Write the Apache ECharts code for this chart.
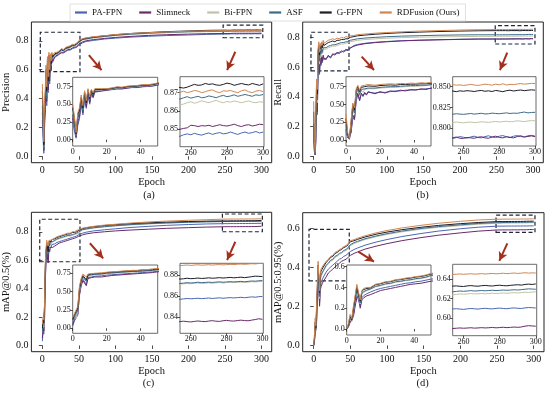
<!DOCTYPE html>
<html><head><meta charset="utf-8">
<script src="https://cdn.jsdelivr.net/npm/echarts@6/dist/echarts.min.js"></script>
<style>html,body{margin:0;padding:0;background:#fff}#c{width:550px;height:395px}</style>
</head><body><div id="c"></div>
<script>
const models = ['PA-FPN','Slimneck','Bi-FPN','ASF','G-FPN','RDFusion (Ours)'];
const colors = ['#4a67b1','#6a2a6c','#bfc4a6','#3e6b88','#1c1c2a','#cf8752'];

const epochsEarly = [0,1,2,3,4,5,6,7,8,9,10,11,12,13,14,17,20,23,26,29,32,35,38,41,44,47,50];
const epochsMid = [55,60,70,85,100,120,145,170,200,225];
const epochsLate = [250,252,254,256,258,260,262,264,266,268,270,272,274,276,278,280,282,284,286,288,290,292,294,296,298,300];

// ---------- Precision ----------
const prec_PA = [0.25,0.12,0.02,0.20,0.30,0.50,0.35,0.58,0.44,0.64,0.50,0.65,0.59,0.67,0.65,
 0.685,0.695,0.705,0.715,0.715,0.725,0.735,0.735,0.745,0.75,0.755,0.77,
 0.785,0.795,0.802,0.812,0.818,0.825,0.831,0.836,0.840,0.844,
 0.8465,0.8460,0.8462,0.8470,0.8475,0.8470,0.8478,0.8472,0.8468,0.8475,0.8480,0.8472,0.8478,0.8482,0.8475,0.8478,0.8485,0.8478,0.8472,0.8480,0.8485,0.8478,0.8482,0.8488,0.8480,0.8485];
const prec_Slim = [0.30,0.20,0.04,0.25,0.33,0.52,0.38,0.60,0.46,0.65,0.52,0.66,0.60,0.68,0.66,
 0.69,0.70,0.71,0.72,0.72,0.73,0.74,0.74,0.75,0.755,0.76,0.775,
 0.792,0.800,0.808,0.816,0.823,0.830,0.837,0.842,0.846,0.849,
 0.8505,0.8502,0.8500,0.8505,0.8508,0.8522,0.8520,0.8515,0.8520,0.8518,0.8522,0.8515,0.8520,0.8525,0.8520,0.8518,0.8522,0.8528,0.8520,0.8515,0.8522,0.8525,0.8518,0.8522,0.8528,0.8525];
const prec_Bi = [0.40,0.25,0.06,0.32,0.40,0.58,0.42,0.65,0.51,0.69,0.57,0.69,0.63,0.70,0.68,
 0.70,0.71,0.715,0.73,0.73,0.74,0.745,0.75,0.76,0.76,0.77,0.785,
 0.805,0.810,0.819,0.828,0.836,0.843,0.850,0.855,0.860,0.863,
 0.8650,0.8640,0.8632,0.8638,0.8645,0.8650,0.8642,0.8648,0.8655,0.8650,0.8645,0.8652,0.8658,0.8650,0.8645,0.8652,0.8648,0.8655,0.8650,0.8645,0.8650,0.8655,0.8648,0.8645,0.8650,0.8648];
const prec_ASF = [0.35,0.22,0.05,0.30,0.38,0.57,0.40,0.64,0.50,0.68,0.56,0.69,0.63,0.70,0.68,
 0.705,0.71,0.72,0.735,0.73,0.745,0.75,0.755,0.765,0.765,0.775,0.79,
 0.808,0.813,0.822,0.830,0.838,0.846,0.853,0.858,0.863,0.866,
 0.8670,0.8668,0.8665,0.8672,0.8678,0.8670,0.8675,0.8680,0.8672,0.8675,0.8682,0.8678,0.8672,0.8680,0.8685,0.8678,0.8682,0.8688,0.8680,0.8685,0.8690,0.8685,0.8680,0.8688,0.8685,0.8690];
const prec_G = [0.45,0.30,0.08,0.35,0.42,0.60,0.45,0.67,0.52,0.70,0.58,0.70,0.64,0.71,0.69,
 0.71,0.715,0.725,0.74,0.735,0.75,0.755,0.76,0.77,0.77,0.78,0.795,
 0.812,0.818,0.826,0.834,0.842,0.850,0.857,0.863,0.868,0.872,
 0.8735,0.8730,0.8728,0.8725,0.8730,0.8738,0.8745,0.8740,0.8742,0.8750,0.8745,0.8748,0.8742,0.8740,0.8745,0.8752,0.8748,0.8740,0.8745,0.8750,0.8745,0.8742,0.8750,0.8745,0.8740,0.8748];
const prec_RDF = [0.50,0.32,0.10,0.38,0.45,0.63,0.48,0.69,0.55,0.72,0.60,0.71,0.66,0.72,0.70,
 0.72,0.72,0.73,0.745,0.74,0.755,0.76,0.765,0.775,0.775,0.785,0.80,
 0.815,0.820,0.828,0.835,0.843,0.850,0.856,0.861,0.866,0.869,
 0.8705,0.8700,0.8702,0.8708,0.8700,0.8705,0.8712,0.8708,0.8700,0.8705,0.8712,0.8715,0.8705,0.8700,0.8710,0.8708,0.8712,0.8705,0.8700,0.8710,0.8715,0.8705,0.8700,0.8708,0.8712,0.8705];

// ---------- Recall ----------
const rec_PA = [0.12,0.03,0.01,0.10,0.32,0.28,0.55,0.64,0.55,0.65,0.61,0.66,0.63,0.67,0.65,
 0.66,0.67,0.67,0.68,0.69,0.69,0.70,0.70,0.71,0.71,0.72,0.725,
 0.745,0.752,0.760,0.767,0.772,0.777,0.781,0.784,0.787,0.789,
 0.7895,0.7885,0.7878,0.7888,0.7900,0.7892,0.7882,0.7895,0.7905,0.7890,0.7885,0.7900,0.7910,0.7895,0.7888,0.7905,0.7912,0.7898,0.7890,0.7905,0.7912,0.7900,0.7895,0.7910,0.7915,0.7905];
const rec_Slim = [0.15,0.04,0.01,0.12,0.35,0.30,0.58,0.66,0.56,0.66,0.62,0.67,0.64,0.68,0.66,
 0.65,0.68,0.66,0.69,0.68,0.70,0.69,0.71,0.70,0.72,0.71,0.73,
 0.740,0.748,0.757,0.765,0.770,0.776,0.780,0.783,0.786,0.788,
 0.7880,0.7875,0.7885,0.7895,0.7880,0.7878,0.7890,0.7885,0.7880,0.7892,0.7898,0.7885,0.7880,0.7895,0.7905,0.7890,0.7885,0.7898,0.7890,0.7885,0.7900,0.7910,0.7895,0.7902,0.7908,0.7900];
const rec_Bi = [0.20,0.05,0.02,0.18,0.42,0.36,0.64,0.70,0.62,0.70,0.67,0.71,0.69,0.72,0.71,
 0.72,0.73,0.735,0.74,0.74,0.745,0.75,0.755,0.755,0.76,0.765,0.77,
 0.775,0.780,0.785,0.790,0.794,0.798,0.801,0.803,0.805,0.806,
 0.8065,0.8060,0.8068,0.8075,0.8070,0.8065,0.8072,0.8075,0.8068,0.8072,0.8078,0.8075,0.8070,0.8078,0.8082,0.8075,0.8080,0.8085,0.8078,0.8082,0.8090,0.8085,0.8080,0.8088,0.8092,0.8090];
const rec_ASF = [0.22,0.06,0.02,0.20,0.45,0.38,0.66,0.72,0.64,0.71,0.69,0.72,0.70,0.73,0.72,
 0.73,0.74,0.745,0.75,0.75,0.755,0.76,0.765,0.765,0.77,0.77,0.78,
 0.785,0.790,0.795,0.800,0.804,0.808,0.811,0.814,0.816,0.817,
 0.8170,0.8165,0.8168,0.8175,0.8170,0.8168,0.8172,0.8178,0.8170,0.8175,0.8180,0.8172,0.8175,0.8182,0.8178,0.8175,0.8180,0.8185,0.8178,0.8182,0.8180,0.8188,0.8195,0.8185,0.8190,0.8192];
const rec_G = [0.30,0.08,0.03,0.25,0.50,0.42,0.70,0.75,0.68,0.74,0.72,0.75,0.73,0.76,0.745,
 0.755,0.765,0.77,0.775,0.77,0.78,0.78,0.785,0.785,0.79,0.79,0.80,
 0.805,0.810,0.815,0.821,0.826,0.831,0.835,0.839,0.842,0.844,
 0.8450,0.8445,0.8448,0.8440,0.8450,0.8445,0.8452,0.8448,0.8442,0.8450,0.8455,0.8445,0.8450,0.8442,0.8455,0.8448,0.8440,0.8452,0.8458,0.8448,0.8455,0.8460,0.8452,0.8458,0.8462,0.8458];
const rec_RDF = [0.37,0.10,0.03,0.28,0.52,0.45,0.72,0.77,0.70,0.76,0.74,0.77,0.75,0.78,0.76,
 0.77,0.78,0.785,0.79,0.785,0.795,0.79,0.80,0.795,0.805,0.80,0.81,
 0.812,0.818,0.822,0.828,0.832,0.837,0.842,0.845,0.849,0.851,
 0.8520,0.8515,0.8525,0.8518,0.8522,0.8515,0.8520,0.8528,0.8520,0.8515,0.8522,0.8530,0.8525,0.8518,0.8530,0.8522,0.8535,0.8520,0.8528,0.8525,0.8532,0.8538,0.8530,0.8535,0.8540,0.8538];

// ---------- mAP@0.5 ----------
const map50_PA = [0.03,0.10,0.08,0.18,0.48,0.60,0.67,0.67,0.60,0.69,0.68,0.70,0.69,0.71,0.70,
 0.715,0.725,0.73,0.735,0.74,0.745,0.75,0.755,0.76,0.765,0.77,0.78,
 0.790,0.797,0.806,0.814,0.821,0.830,0.838,0.845,0.851,0.855,
 0.8572,0.8575,0.8570,0.8574,0.8578,0.8575,0.8577,0.8580,0.8576,0.8579,0.8582,0.8578,0.8581,0.8584,0.8580,0.8583,0.8586,0.8583,0.8586,0.8589,0.8585,0.8589,0.8593,0.8590,0.8595,0.8597];
const map50_Slim = [0.05,0.12,0.10,0.20,0.45,0.58,0.65,0.66,0.58,0.68,0.66,0.69,0.68,0.70,0.69,
 0.70,0.71,0.72,0.725,0.73,0.735,0.74,0.745,0.75,0.755,0.76,0.77,
 0.778,0.785,0.793,0.800,0.806,0.812,0.818,0.824,0.829,0.833,
 0.8355,0.8352,0.8358,0.8362,0.8358,0.8355,0.8360,0.8364,0.8360,0.8358,0.8363,0.8367,0.8362,0.8360,0.8366,0.8370,0.8365,0.8363,0.8368,0.8372,0.8368,0.8366,0.8372,0.8378,0.8385,0.8380];
const map50_Bi = [0.10,0.16,0.13,0.24,0.50,0.63,0.70,0.69,0.65,0.71,0.70,0.72,0.71,0.73,0.725,
 0.735,0.745,0.75,0.755,0.76,0.765,0.77,0.77,0.775,0.78,0.785,0.79,
 0.812,0.818,0.826,0.834,0.841,0.848,0.855,0.861,0.866,0.870,
 0.8715,0.8718,0.8714,0.8717,0.8720,0.8718,0.8721,0.8725,0.8720,0.8723,0.8726,0.8722,0.8726,0.8729,0.8725,0.8728,0.8731,0.8728,0.8731,0.8733,0.8730,0.8733,0.8737,0.8735,0.8738,0.8740];
const map50_ASF = [0.10,0.15,0.14,0.25,0.52,0.64,0.70,0.70,0.64,0.72,0.70,0.73,0.72,0.735,0.73,
 0.74,0.75,0.755,0.76,0.765,0.77,0.775,0.775,0.78,0.785,0.79,0.80,
 0.815,0.820,0.828,0.836,0.843,0.850,0.857,0.862,0.867,0.870,
 0.8722,0.8725,0.8720,0.8724,0.8728,0.8725,0.8728,0.8732,0.8728,0.8730,0.8733,0.8730,0.8733,0.8736,0.8732,0.8735,0.8738,0.8735,0.8738,0.8740,0.8737,0.8740,0.8744,0.8742,0.8746,0.8748];
const map50_G = [0.12,0.18,0.16,0.28,0.55,0.66,0.72,0.72,0.66,0.73,0.72,0.74,0.73,0.745,0.74,
 0.75,0.76,0.765,0.77,0.775,0.78,0.785,0.785,0.795,0.795,0.80,0.81,
 0.822,0.828,0.836,0.844,0.850,0.857,0.863,0.868,0.872,0.875,
 0.8765,0.8768,0.8762,0.8765,0.8770,0.8766,0.8768,0.8772,0.8768,0.8770,0.8774,0.8770,0.8772,0.8776,0.8772,0.8775,0.8778,0.8774,0.8777,0.8780,0.8776,0.8780,0.8785,0.8790,0.8788,0.8786];
const map50_RDF = [0.15,0.20,0.18,0.30,0.58,0.68,0.74,0.73,0.70,0.74,0.73,0.745,0.74,0.75,0.745,
 0.755,0.765,0.77,0.775,0.78,0.785,0.79,0.79,0.80,0.80,0.81,0.815,
 0.825,0.830,0.838,0.847,0.853,0.861,0.869,0.875,0.881,0.885,
 0.8892,0.8894,0.8890,0.8893,0.8896,0.8892,0.8895,0.8898,0.8894,0.8896,0.8899,0.8895,0.8898,0.8900,0.8897,0.8899,0.8902,0.8900,0.8903,0.8905,0.8902,0.8905,0.8908,0.8906,0.8910,0.8912];

// ---------- mAP@0.5:0.95 ----------
const map95_PA = [0.00,0.02,0.07,0.06,0.14,0.24,0.33,0.34,0.22,0.30,0.32,0.33,0.34,0.35,0.355,
 0.375,0.39,0.40,0.41,0.42,0.43,0.44,0.445,0.455,0.46,0.47,0.48,
 0.490,0.498,0.512,0.528,0.541,0.556,0.571,0.584,0.596,0.604,
 0.6092,0.6088,0.6095,0.6098,0.6094,0.6091,0.6096,0.6100,0.6097,0.6094,0.6099,0.6102,0.6098,0.6096,0.6101,0.6104,0.6100,0.6098,0.6103,0.6106,0.6102,0.6100,0.6106,0.6110,0.6108,0.6105];
const map95_Slim = [0.00,0.02,0.06,0.05,0.12,0.22,0.30,0.32,0.20,0.28,0.30,0.31,0.32,0.33,0.33,
 0.35,0.37,0.38,0.39,0.40,0.41,0.42,0.43,0.435,0.44,0.45,0.46,
 0.470,0.478,0.492,0.507,0.520,0.535,0.550,0.563,0.575,0.584,
 0.5898,0.5900,0.5896,0.5899,0.5902,0.5899,0.5901,0.5904,0.5900,0.5902,0.5905,0.5902,0.5904,0.5907,0.5903,0.5906,0.5909,0.5905,0.5908,0.5911,0.5908,0.5912,0.5920,0.5925,0.5922,0.5920];
const map95_Bi = [0.00,0.03,0.09,0.07,0.17,0.27,0.37,0.37,0.24,0.33,0.35,0.35,0.37,0.38,0.38,
 0.405,0.415,0.43,0.435,0.45,0.455,0.465,0.47,0.48,0.485,0.495,0.51,
 0.520,0.528,0.541,0.555,0.567,0.580,0.593,0.603,0.612,0.619,
 0.6242,0.6245,0.6240,0.6244,0.6248,0.6245,0.6248,0.6252,0.6248,0.6250,0.6253,0.6250,0.6253,0.6256,0.6252,0.6255,0.6258,0.6255,0.6258,0.6261,0.6258,0.6262,0.6266,0.6263,0.6268,0.6270];
const map95_ASF = [0.00,0.03,0.10,0.08,0.18,0.28,0.38,0.38,0.25,0.34,0.36,0.36,0.375,0.385,0.385,
 0.41,0.42,0.435,0.44,0.455,0.46,0.47,0.475,0.485,0.49,0.50,0.515,
 0.525,0.532,0.545,0.559,0.571,0.584,0.597,0.607,0.616,0.623,
 0.6272,0.6275,0.6270,0.6274,0.6278,0.6275,0.6278,0.6282,0.6278,0.6280,0.6283,0.6280,0.6283,0.6286,0.6282,0.6285,0.6288,0.6285,0.6288,0.6291,0.6288,0.6292,0.6296,0.6300,0.6298,0.6296];
const map95_G = [0.00,0.04,0.12,0.09,0.20,0.30,0.41,0.40,0.27,0.36,0.38,0.37,0.39,0.40,0.395,
 0.425,0.435,0.45,0.455,0.47,0.475,0.485,0.49,0.50,0.505,0.515,0.53,
 0.535,0.542,0.554,0.568,0.579,0.591,0.603,0.613,0.622,0.628,
 0.6325,0.6322,0.6328,0.6330,0.6326,0.6324,0.6330,0.6333,0.6329,0.6327,0.6332,0.6335,0.6331,0.6329,0.6334,0.6337,0.6333,0.6331,0.6336,0.6339,0.6342,0.6338,0.6345,0.6348,0.6345,0.6350];
const map95_RDF = [0.00,0.05,0.14,0.10,0.22,0.32,0.43,0.42,0.28,0.37,0.39,0.38,0.40,0.41,0.40,
 0.43,0.44,0.455,0.46,0.475,0.48,0.49,0.495,0.505,0.51,0.52,0.535,
 0.540,0.548,0.560,0.575,0.587,0.600,0.613,0.624,0.634,0.641,
 0.6448,0.6450,0.6446,0.6449,0.6452,0.6448,0.6451,0.6454,0.6450,0.6452,0.6455,0.6451,0.6454,0.6457,0.6453,0.6456,0.6459,0.6455,0.6458,0.6461,0.6457,0.6460,0.6464,0.6460,0.6463,0.6461];

const mainXTicks = [0,50,100,150,200,250,300];
const leftXTicks = [0,20,40];
const rightXTicks = [260,280,300];

const FONT = '"Liberation Serif","DejaVu Serif",serif';
const epochs = epochsEarly.concat(epochsMid, epochsLate);

const panels = [
 { yName:'Precision', tag:'(a)', tagPos:[149,195.5],
   data:[prec_PA,prec_Slim,prec_Bi,prec_ASF,prec_G,prec_RDF],
   main:{left:29.3,top:22,width:242.4,height:140.7,ymin:-0.045,ymax:0.93,yticks:[0,0.2,0.4,0.6,0.8],dec:1},
   inL:{left:72.7,top:77.3,width:85,height:68.7,ymin:-0.09,ymax:0.88,yticks:[0,0.25,0.5,0.75],dec:2},
   inR:{left:180,top:76.7,width:84,height:70,ymin:0.8405,ymax:0.8787,yticks:[0.85,0.86,0.87],dec:2},
   rectL:[[-2.8,0.586],[51.5,0.859]], rectR:[[247.5,0.821],[301.8,0.909]],
   arrowL:[[63.7,0.701],[81.0,0.597]], arrowR:[[264.2,0.724],[252.9,0.597]] },
 { yName:'Recall', tag:'(b)', tagPos:[422.5,195.5],
   data:[rec_PA,rec_Slim,rec_Bi,rec_ASF,rec_G,rec_RDF],
   main:{left:302.7,top:22,width:240.6,height:140.7,ymin:-0.043,ymax:0.903,yticks:[0,0.2,0.4,0.6,0.8],dec:1},
   inL:{left:346,top:76.7,width:85,height:69.3,ymin:-0.084,ymax:0.89,yticks:[0,0.25,0.5,0.75],dec:2},
   inR:{left:452.7,top:76.7,width:83.3,height:69.3,ymin:0.7787,ymax:0.862,yticks:[0.8,0.825,0.85],dec:3},
   rectL:[[-3.7,0.574],[48.3,0.834]], rectR:[[248.3,0.755],[302.6,0.878]],
   arrowL:[[65.6,0.670],[82.5,0.580]], arrowR:[[264.7,0.697],[254.7,0.580]] },
 { yName:'mAP@0.5(%)', tag:'(c)', tagPos:[148.5,383],
   data:[map50_PA,map50_Slim,map50_Bi,map50_ASF,map50_G,map50_RDF],
   main:{left:29.3,top:212.3,width:242.4,height:139.4,ymin:-0.044,ymax:0.937,yticks:[0,0.2,0.4,0.6,0.8],dec:1},
   inL:{left:72.7,top:265,width:85,height:68.3,ymin:-0.068,ymax:0.863,yticks:[0,0.25,0.5,0.75],dec:2},
   inR:{left:180,top:263.3,width:83.3,height:70,ymin:0.8247,ymax:0.8912,yticks:[0.84,0.86,0.88],dec:2},
   rectL:[[-3.6,0.589],[51.5,0.888]], rectR:[[246.5,0.800],[301.2,0.925]],
   arrowL:[[65.1,0.719],[83.3,0.613]], arrowR:[[264.2,0.730],[252.9,0.601]] },
 { yName:'mAP@0.5:0.95(%)', tag:'(d)', tagPos:[422.5,383],
   data:[map95_PA,map95_Slim,map95_Bi,map95_ASF,map95_G,map95_RDF],
   main:{left:302.7,top:212.7,width:241.3,height:139,ymin:-0.032,ymax:0.678,yticks:[0,0.2,0.4,0.6],dec:1},
   inL:{left:346.7,top:265,width:84.3,height:70,ymin:-0.058,ymax:0.616,yticks:[0,0.2,0.4,0.6],dec:1},
   inR:{left:452.7,top:264.3,width:84,height:71.4,ymin:0.5823,ymax:0.655,yticks:[0.6,0.62,0.64],dec:2},
   rectL:[[-6.4,0.330],[48.5,0.593]], rectR:[[248.6,0.578],[301.7,0.666]],
   arrowL:[[60.8,0.479],[82.2,0.428]], arrowR:[[264.0,0.521],[253.1,0.432]] }
];

const grids=[], xAxes=[], yAxes=[], series=[], graphics=[];
const txt = (fs)=>({fontFamily:FONT,fontSize:fs,color:'#111'});

function addAxes(g, xr, inset, yName, yGap) {
  const gi = grids.length;
  grids.push({left:g.left, top:g.top, width:g.width, height:g.height, show:true,
    backgroundColor: inset ? '#fff' : 'transparent', borderColor: inset ? '#444' : '#222',
    borderWidth: inset ? 0.8 : 1, z: inset ? 3 : 0});
  const fs = inset ? 8 : 10;
  xAxes.push({type:'value', gridIndex:gi, min:xr.min, max:xr.max, z: inset ? 4 : 0,
    axisLine:{show:false}, splitLine:{show:false},
    axisTick:{show:true, length: inset ? 2.5 : 3.5, lineStyle:{color:'#222', width:0.8}, customValues:xr.ticks},
    axisLabel:{customValues:xr.ticks, margin: inset ? 2 : 3, ...txt(fs), formatter:(v)=>String(Math.round(v))},
    name: inset ? '' : 'Epoch', nameLocation:'middle', nameGap:12, nameTextStyle:txt(10.5)});
  yAxes.push({type:'value', gridIndex:gi, min:g.ymin, max:g.ymax, z: inset ? 4 : 0,
    axisLine:{show:false}, splitLine:{show:false},
    axisTick:{show:true, length: inset ? 2.5 : 3.5, lineStyle:{color:'#222', width:0.8}, customValues:g.yticks},
    axisLabel:{customValues:g.yticks, margin: inset ? 2 : 3, ...txt(fs), formatter:(v)=>v.toFixed(g.dec)},
    name: yName || '', nameLocation:'middle', nameGap: yGap || 16, nameTextStyle:txt(10.5)});
  return gi;
}

const dashStyle = {color:'rgba(0,0,0,0)', borderColor:'#1f2638', borderWidth:1.2, borderType:[4,2.5]};
const arrowColor = '#a3301c';

panels.forEach((p, pi) => {
  const gm = addAxes(p.main, {min:-15, max:314, ticks:mainXTicks}, false, p.yName, pi===3 ? 17 : 16);
  const gl = addAxes(p.inL, {min:0, max:50, ticks:leftXTicks}, true);
  const gr = addAxes(p.inR, {min:254, max:300.5, ticks:rightXTicks}, true);
  p.data.forEach((arr, mi) => {
    const pts = epochs.map((e, i) => [e, arr[i]]);
    const base = {type:'line', name:models[mi], data:pts, showSymbol:false, symbol:'none',
      color:colors[mi], lineStyle:{color:colors[mi], width:1}, silent:true, animation:false,
      emphasis:{disabled:true}};
    const mainS = Object.assign({}, base, {xAxisIndex:gm, yAxisIndex:gm, z:2});
    if (mi === 0) {
      mainS.markArea = {silent:true, itemStyle:dashStyle, label:{show:false},
        data:[[{coord:p.rectL[0]},{coord:p.rectL[1]}],[{coord:p.rectR[0]},{coord:p.rectR[1]}]]};
      mainS.markLine = {silent:true, symbol:['none','arrow'], symbolSize:[7,9], label:{show:false},
        lineStyle:{color:arrowColor, width:2, type:'solid'}, animation:false,
        data:[[{coord:p.arrowL[0]},{coord:p.arrowL[1]}],[{coord:p.arrowR[0]},{coord:p.arrowR[1]}]]};
    }
    series.push(mainS);
    series.push(Object.assign({}, base, {xAxisIndex:gl, yAxisIndex:gl, z:5}));
    series.push(Object.assign({}, base, {xAxisIndex:gr, yAxisIndex:gr, z:5}));
  });
  graphics.push({type:'text', x:p.tagPos[0], y:p.tagPos[1],
    style:{text:p.tag, align:'center', verticalAlign:'middle', font:'10.5px ' + FONT, fill:'#111'}});
});

const chart = echarts.init(document.getElementById('c'), null, {renderer:'canvas'});
chart.setOption({
  animation:false,
  backgroundColor:'#fff',
  legend:{data:models, left:70, top:4, icon:'rect', itemWidth:12, itemHeight:2.2, itemGap:17,
    padding:[4,6,4,5], borderColor:'#d8d8d8', borderWidth:0.8, textStyle:txt(9), selectedMode:false},
  grid:grids, xAxis:xAxes, yAxis:yAxes, series:series, graphic:graphics
});
</script></body></html>
